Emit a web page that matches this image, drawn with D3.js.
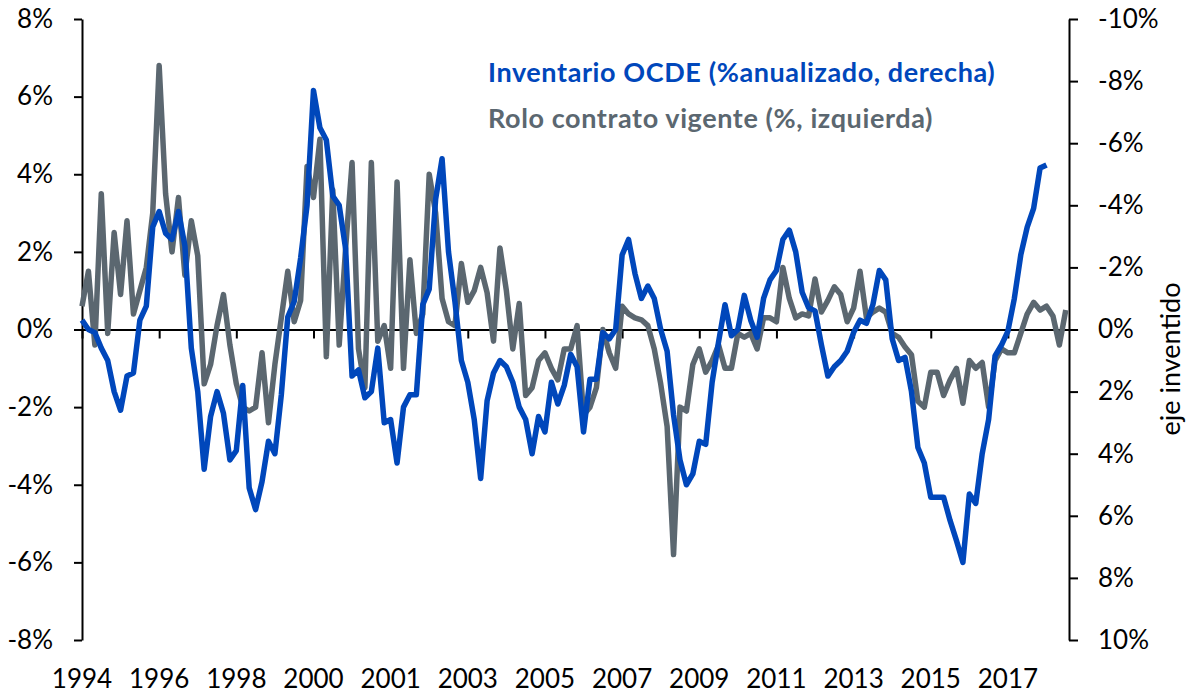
<!DOCTYPE html>
<html>
<head>
<meta charset="utf-8">
<script src="https://cdn.jsdelivr.net/npm/d3@7"></script>
<style>
  body { margin: 0; background: #fff; }
  .tick-label { font-family: Lato, "Open Sans", sans-serif; font-size: 26px; fill: #000; }
  .legend-text { font-family: Lato, "Open Sans", sans-serif; font-weight: bold; font-size: 27px; letter-spacing: 0.6px; }
</style>
</head>
<body>
<script>
// Year labels on the category axis (one every 12 points, 2-month steps)
var years = ['1994', '1996', '1998', '2000', '2001', '2003', '2005', '2007', '2009', '2011', '2013', '2015', '2017'];
var label_step = 12;

// Rolo contrato vigente (%), left axis
var rolo = [
  0.6, 1.5, -0.4, 3.5, -0.1, 2.5, 0.9, 2.8, 0.4, 1.0,
  1.6, 3.0, 6.8, 3.5, 2.0, 3.4, 1.4, 2.8, 1.9, -1.4,
  -0.9, 0.1, 0.9, -0.4, -1.4, -2.0, -2.1, -2.0, -0.6, -2.4,
  -0.9, 0.3, 1.5, 0.2, 0.75, 4.2, 3.4, 4.9, -0.7, 3.6,
  -0.4, 2.1, 4.3, -0.5, -1.5, 4.3, -0.3, 0.1, -1.0, 3.8,
  -1.0, 1.8, -0.1, 0.4, 4.0, 3.0, 0.8, 0.2, 0.1, 1.7,
  0.7, 1.0, 1.6, 0.95, -0.3, 2.1, 1.0, -0.5, 0.67, -1.7,
  -1.5, -0.8, -0.6, -1.0, -1.3, -0.5, -0.5, 0.1, -2.2, -2.0,
  -1.5, 0.0, -0.6, -1.0, 0.6, 0.4, 0.3, 0.25, 0.1, -0.5,
  -1.4, -2.5, -5.8, -2.0, -2.1, -0.9, -0.5, -1.1, -0.8, -0.4,
  -1.0, -1.0, -0.1, -0.2, -0.1, -0.5, 0.3, 0.3, 0.2, 1.6,
  0.8, 0.3, 0.4, 0.35, 1.3, 0.45, 0.75, 1.1, 0.9, 0.2,
  0.55, 1.5, 0.3, 0.45, 0.55, 0.45, -0.1, -0.2, -0.45, -0.65,
  -1.85, -2.0, -1.1, -1.1, -1.7, -1.3, -1.0, -1.9, -0.8, -1.0,
  -0.85, -2.0, -0.8, -0.5, -0.6, -0.6, -0.1, 0.4, 0.7, 0.5,
  0.6, 0.35, -0.4, 0.5
];

// Inventario OCDE (% anualizado), right axis (inverted)
var inventario = [
  -0.3, 0.0, 0.1, 0.6, 1.0, 2.0, 2.6, 1.5, 1.4, -0.3,
  -0.75, -3.3, -3.8, -3.1, -2.9, -3.8, -2.7, 0.6, 2.0, 4.5,
  2.8, 2.0, 2.7, 4.2, 3.9, 1.8, 5.1, 5.8, 4.9, 3.6,
  4.0, 2.1, -0.4, -0.9, -2.3, -4.0, -7.7, -6.5, -6.1, -4.3,
  -4.0, -2.6, 1.5, 1.3, 2.2, 2.0, 0.6, 3.0, 2.9, 4.3,
  2.5, 2.1, 2.1, -0.8, -1.3, -4.2, -5.5, -2.5, -0.9, 1.0,
  1.7, 2.9, 4.8, 2.3, 1.4, 1.0, 1.2, 1.7, 2.5, 2.9,
  4.0, 2.8, 3.3, 1.7, 2.4, 1.8, 0.8, 1.2, 3.3, 1.6,
  1.6, 0.1, 0.3, 0.0, -2.4, -2.9, -1.8, -1.0, -1.4, -1.0,
  0.0, 0.7, 2.75, 4.2, 5.0, 4.65, 3.6, 3.7, 1.7, 0.4,
  -0.8, 0.2, 0.0, -1.1, -0.3, 0.25, -1.0, -1.6, -1.9, -2.9,
  -3.2, -2.5, -1.2, -0.7, -0.6, 0.5, 1.5, 1.2, 1.0, 0.7,
  0.1, -0.3, -0.2, -0.8, -1.9, -1.6, 0.3, 1.0, 0.9, 2.0,
  3.8, 4.3, 5.4, 5.4, 5.4, 6.15, 6.8, 7.5, 5.3, 5.6,
  4.0, 2.9, 0.85, 0.5, 0.05, -1.0, -2.4, -3.3, -3.9, -5.2,
  -5.3
];

var left_ticks = [-8, -6, -4, -2, 0, 2, 4, 6, 8];
var right_ticks = [-10, -8, -6, -4, -2, 0, 2, 4, 6, 8, 10];

var blue = '#0047bb';
var grey = '#5b6770';

// Size of the SVG and of the plot area
var svg_width = 1192;
var svg_height = 694;
var plot_left = 82;
var plot_right = 1069;
var plot_top = 19;
var plot_bottom = 640;

var svg = d3.select('body').append('svg')
  .attr('width', svg_width)
  .attr('height', svg_height);

// Scales
var x = d3.scaleLinear()
  .domain([0, rolo.length - 0.5])
  .range([plot_left, plot_right]);

var y_left = d3.scaleLinear()
  .domain([-8, 8])
  .range([plot_bottom, plot_top]);

// right axis is upside down: -10% on top
var y_right = d3.scaleLinear()
  .domain([-10, 10])
  .range([plot_top, plot_bottom]);

// Left axis
var left_axis = svg.append('g')
  .attr('transform', 'translate(' + plot_left + ',0)')
  .call(d3.axisLeft(y_left)
    .tickValues(left_ticks)
    .tickFormat(function(d) { return d + '%'; })
    .tickSize(8)
    .tickSizeOuter(0)
    .tickPadding(21));

// Right axis
var right_axis = svg.append('g')
  .attr('transform', 'translate(' + plot_right + ',0)')
  .call(d3.axisRight(y_right)
    .tickValues(right_ticks)
    .tickFormat(function(d) { return d + '%'; })
    .tickSize(9)
    .tickSizeOuter(0)
    .tickPadding(20));

[left_axis, right_axis].forEach(function(g) {
  g.selectAll('path, line').attr('stroke', '#000').attr('stroke-width', 2);
  g.selectAll('text').attr('class', 'tick-label').attr('font-family', null).attr('font-size', null);
});

// Category axis drawn along the zero line, labels go to the bottom
var x_axis = svg.append('g')
  .attr('transform', 'translate(0,' + y_left(0) + ')')
  .call(d3.axisBottom(x)
    .tickValues(years.map(function(d, i) { return i * label_step; }))
    .tickFormat('')
    .tickSize(9)
    .tickSizeOuter(0));
x_axis.selectAll('path, line').attr('stroke', '#000').attr('stroke-width', 2);

svg.selectAll('text.x-label')
  .data(years)
  .enter()
  .append('text')
  .attr('class', 'tick-label x-label')
  .attr('x', function(d, i) { return x(i * label_step); })
  .attr('y', 688)
  .attr('text-anchor', 'middle')
  .text(function(d) { return d; });

// Lines
var line_left = d3.line()
  .x(function(d, i) { return x(i); })
  .y(function(d) { return y_left(d); });

var line_right = d3.line()
  .x(function(d, i) { return x(i); })
  .y(function(d) { return y_right(d); });

svg.append('path')
  .datum(rolo)
  .attr('fill', 'none')
  .attr('stroke', grey)
  .attr('stroke-width', 5.5)
  .attr('stroke-linejoin', 'round')
  .attr('d', line_left);

svg.append('path')
  .datum(inventario)
  .attr('fill', 'none')
  .attr('stroke', blue)
  .attr('stroke-width', 5.5)
  .attr('stroke-linejoin', 'round')
  .attr('d', line_right);

// Legend
svg.append('text')
  .attr('class', 'legend-text')
  .attr('x', 488)
  .attr('y', 82)
  .attr('fill', blue)
  .text('Inventario OCDE (%anualizado, derecha)');

svg.append('text')
  .attr('class', 'legend-text')
  .attr('x', 488)
  .attr('y', 128)
  .attr('fill', grey)
  .text('Rolo contrato vigente (%, izquierda)');

// Right axis title
svg.append('text')
  .attr('class', 'tick-label')
  .attr('text-anchor', 'middle')
  .attr('transform', 'translate(1180,359) rotate(-90)')
  .style('font-size', '27px')
  .text('eje inventido');
</script>
</body>
</html>
